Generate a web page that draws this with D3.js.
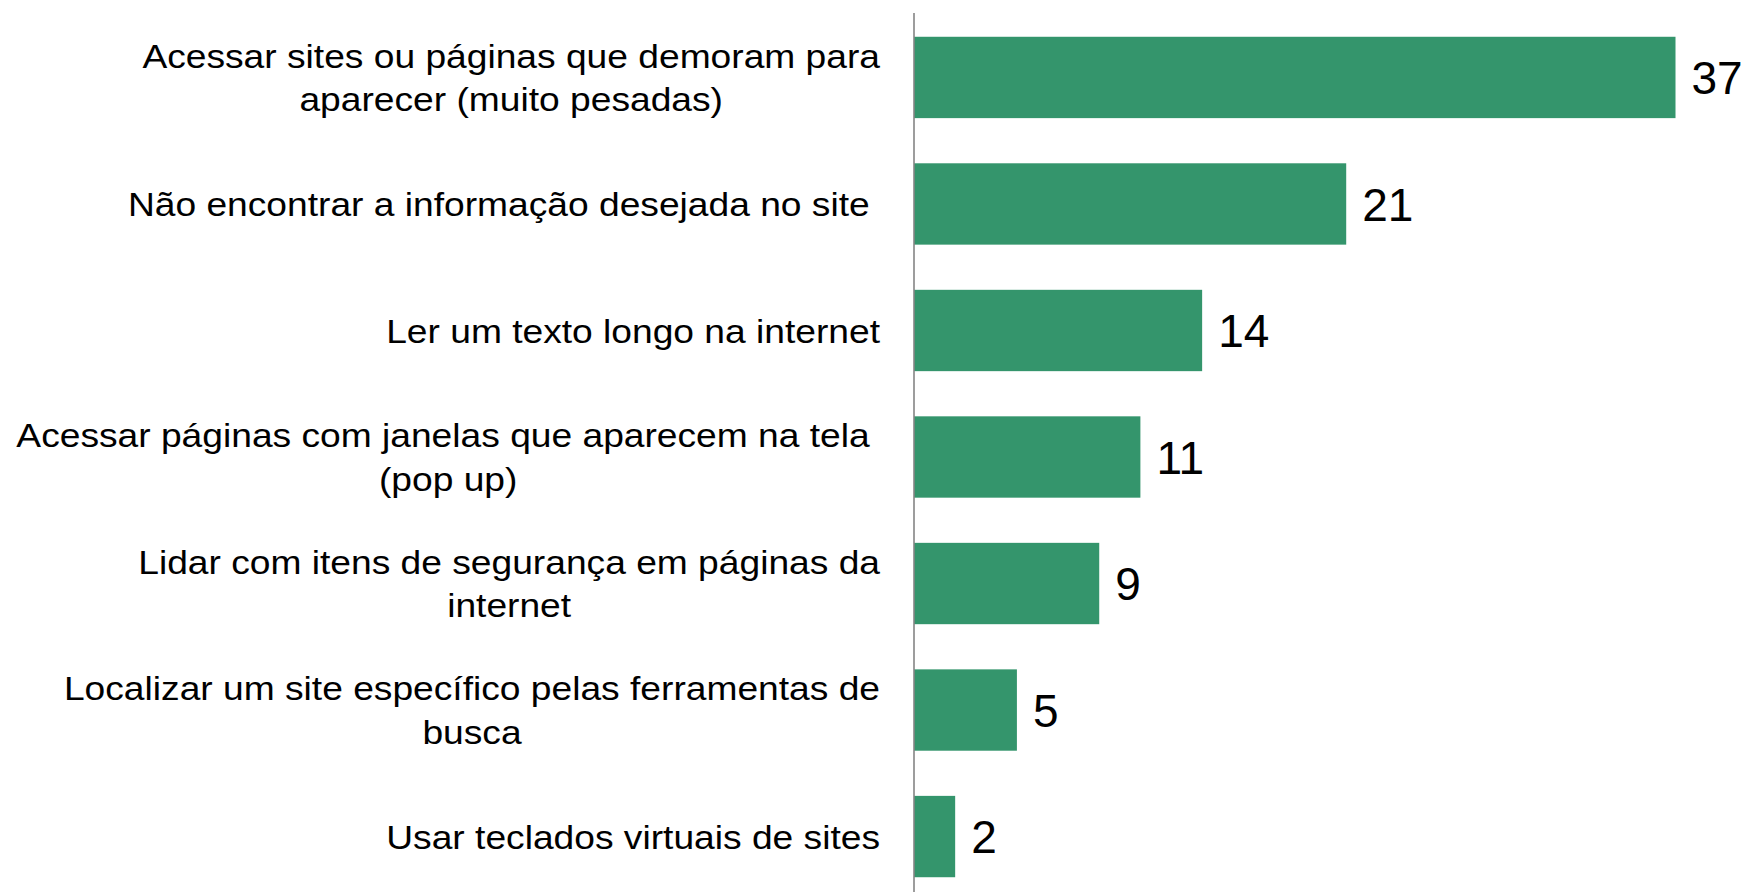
<!DOCTYPE html>
<html>
<head>
<meta charset="utf-8">
<script src="https://cdn.jsdelivr.net/npm/d3@7"></script>
<style>
  html, body { margin: 0; padding: 0; background: #ffffff; }
  svg { display: block; }
  text { font-family: "Liberation Sans", Arial, Helvetica, sans-serif; fill: #000; }
</style>
</head>
<body>
<svg id="chart" width="1748" height="892"></svg>
<script>
// Difficulties reported when using the internet (%)
const categories = [
  ["Acessar sites ou páginas que demoram para", "aparecer (muito pesadas)"],
  ["Não encontrar a informação desejada no site "],
  ["Ler um texto longo na internet"],
  ["Acessar páginas com janelas que aparecem na tela ", "(pop up)"],
  ["Lidar com itens de segurança em páginas da", "internet"],
  ["Localizar um site específico pelas ferramentas de", "busca"],
  ["Usar teclados virtuais de sites"]
];
const values = [37, 21, 14, 11, 9, 5, 2];

const width = 1748, height = 892;
const axisX = 914;
const labelRight = 880;
const catFont = 33.5, catStretch = 1.11, valFont = 46, lineGap = 43.5;

const svg = d3.select("#chart");

const x = d3.scaleLinear().domain([0, 37]).range([axisX, 1675.5]);
const y = d3.scaleBand()
  .domain(d3.range(values.length))
  .range([14, 900])
  .paddingInner(0.357)
  .paddingOuter(0.18);

// bars
svg.append("g").selectAll("rect")
  .data(values)
  .join("rect")
  .attr("x", x(0))
  .attr("y", (d, i) => y(i))
  .attr("width", d => x(d) - x(0))
  .attr("height", y.bandwidth())
  .attr("fill", "#34956c");

// vertical axis line
svg.append("line")
  .attr("x1", axisX).attr("x2", axisX)
  .attr("y1", 13).attr("y2", height)
  .attr("stroke", "#858585")
  .attr("stroke-width", 1.6);

// value labels
svg.append("g").selectAll("text")
  .data(values)
  .join("text")
  .attr("x", d => x(d) + 16)
  .attr("y", (d, i) => y(i) + y.bandwidth() / 2)
  .attr("dy", "0.36em")
  .style("font-size", valFont + "px")
  .text(d => d);

// category labels: block right-aligned to the axis, lines centred within the block
const labelG = svg.append("g")
  .attr("transform", `translate(${labelRight},0) scale(${catStretch},1)`);
categories.forEach((lines, i) => {
  const cy = y(i) + y.bandwidth() / 2;
  const t = labelG.append("text")
    .style("font-size", catFont + "px")
    .style("white-space", "pre")
    .attr("text-anchor", "middle");
  const spans = lines.map((ln, j) =>
    t.append("tspan")
      .attr("y", cy + (j - (lines.length - 1) / 2) * lineGap)
      .attr("dy", "0.36em")
      .text(ln));
  const maxW = d3.max(spans, s => s.node().getComputedTextLength());
  spans.forEach(s => s.attr("x", -maxW / 2));
});
</script>
</body>
</html>
